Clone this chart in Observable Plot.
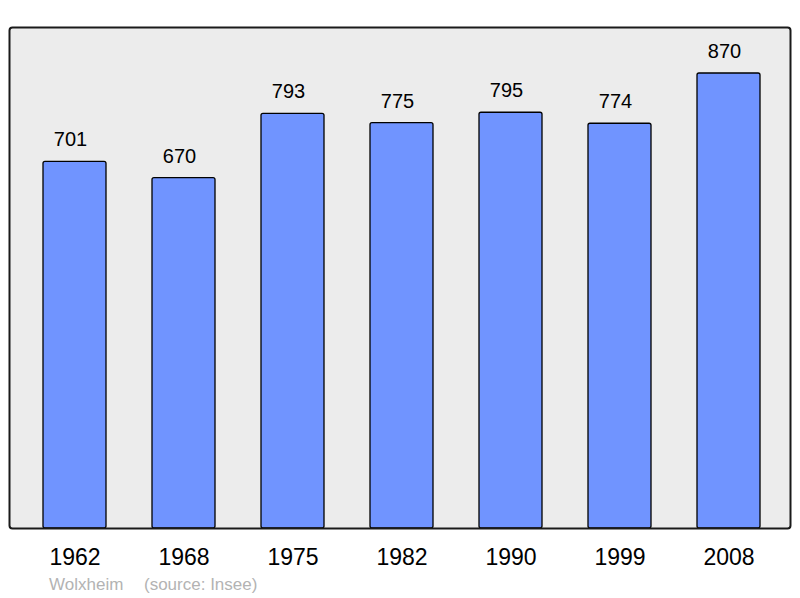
<!DOCTYPE html>
<html>
<head>
<meta charset="utf-8">
<script src="https://cdn.jsdelivr.net/npm/d3@7"></script>
<script src="https://cdn.jsdelivr.net/npm/@observablehq/plot@0.6"></script>
<style>
  html, body { margin: 0; padding: 0; background: #fff; }
  #wrap { position: relative; width: 800px; height: 598px; }
  .cap { position: absolute; top: 576px; font: 17px/17px "Liberation Sans", Arial, sans-serif; color: #b3b3b3; white-space: pre; }
</style>
</head>
<body>
<div id="wrap">
  <div id="chart"></div>
  <div class="cap" style="left:49px">Wolxheim</div>
  <div class="cap" style="left:144px">(source: Insee)</div>
</div>
<script>
const years = ["1962", "1968", "1975", "1982", "1990", "1999", "2008"];
const population = [701, 670, 793, 775, 795, 774, 870];

const data = years.map((y, i) => ({year: y, pop: population[i]}));

const chart = Plot.plot({
  width: 800,
  height: 598,
  marginLeft: 9,
  marginRight: 10,
  marginTop: 27,
  marginBottom: 70,
  style: {fontFamily: "'Liberation Sans', Arial, sans-serif", background: "#fff", color: "#000"},
  x: {domain: years, range: [11.2, 791.9], paddingInner: 0.419, paddingOuter: 0.28, label: null},
  y: {domain: [0, 958], axis: null},
  marks: [
    Plot.frame({fill: "#ececec", stroke: "none", rx: 3}),
    Plot.barY(data, {x: "year", y: "pop", fill: "#7094ff", stroke: "#000", strokeWidth: 1.3, rx: 2}),
    Plot.text(data, {x: "year", y: "pop", text: d => String(d.pop), dy: -22, dx: -4.5, fontSize: 20, fill: "#000"}),
    Plot.frame({stroke: "#1a1a1a", strokeWidth: 2, rx: 3, fill: "none"}),
    Plot.axisX({tickSize: 0, tickPadding: 20, fontSize: 23, label: null, fill: "#000"})
  ]
});
document.getElementById("chart").appendChild(chart);
</script>
</body>
</html>
